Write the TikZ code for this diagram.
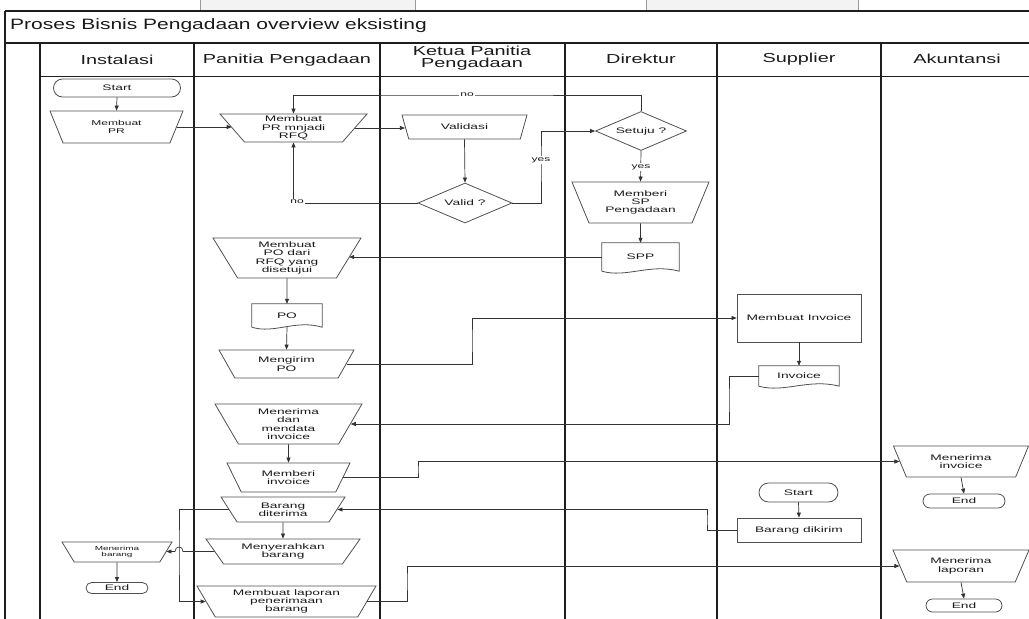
\documentclass[tikz,border=0pt]{standalone}
\usepackage{fontspec}
\setmainfont{Liberation Sans}
\newfontfamily\nodefont[FakeStretch=1.72]{Liberation Sans}
\newfontfamily\headfont[FakeStretch=1.53]{Liberation Sans}
\newfontfamily\titlefont[FakeStretch=1.4]{Liberation Sans}
\usetikzlibrary{shapes.geometric,arrows.meta,calc}
\definecolor{lanec}{HTML}{1E1E1E}
\definecolor{shapec}{HTML}{505050}
\definecolor{linec}{HTML}{333333}
\definecolor{txtc}{HTML}{1A1A1A}
\definecolor{tabfill}{HTML}{F3F3F3}
\definecolor{tabline}{HTML}{9A9A9A}
\tikzset{
  lane/.style={draw=lanec, line width=1.6pt},
  hline/.style={draw=lanec, line width=1.1pt},
  shp/.style={draw=shapec, line width=0.8pt},
  txt/.style={font=\nodefont\fontsize{8}{8.4}\selectfont, align=center, inner sep=0pt, text=txtc},
  manop/.style n args={3}{shp, txt, trapezium, shape border rotate=180, trapezium stretches body,
      minimum width=#1, minimum height=#2, trapezium angle=#3},
  term/.style 2 args={shp, txt, rectangle, rounded corners=#2/2, minimum width=#1, minimum height=#2},
  procbox/.style 2 args={shp, txt, rectangle, minimum width=#1, minimum height=#2},
  docbox/.style 2 args={txt, rectangle, minimum width=#1, minimum height=#2},
  decision/.style 2 args={shp, txt, diamond, aspect=2.3, minimum width=#1, minimum height=#2},
  arr/.style={draw=linec, line width=0.7pt, -{Triangle[length=5pt,width=4pt]}},
  lbl/.style={font=\nodefont\fontsize{7}{7}\selectfont, fill=white, inner sep=1pt, text=txtc},
  head/.style={font=\headfont\fontsize{13}{12}\selectfont, align=center, text=txtc},
}
\newcommand\docwave[1]{%
  \draw[shp] (#1.south west) -- (#1.north west) -- (#1.north east) -- (#1.south east)
    .. controls ($(#1.south west)!0.62!(#1.south east)+(0,-8)$) and ($(#1.south west)!0.32!(#1.south east)+(0,7)$) .. (#1.south west);}
\begin{document}
\begin{tikzpicture}[x=1pt,y=-1pt]
\useasboundingbox (0,0) rectangle (1029,619);
% top tabs
\draw[draw=tabline, fill=tabfill, line width=0.6pt] (200,-2) rectangle (415,11);
\draw[draw=tabline, fill=tabfill, line width=0.6pt] (646,-2) rectangle (858,11);
% frame
\draw[hline] (5,11) -- (1031,11);
\draw[hline] (5,43) -- (1031,43);
\draw[draw=lanec, line width=0.9pt] (40,76) -- (1031,76);
\draw[lane] (5,11) -- (5,621);
\foreach \xx in {40,194,380,565,717,881} { \draw[lane] (\xx,43) -- (\xx,621); }
% title and headers
\node[anchor=west, font=\titlefont\fontsize{15}{15}\selectfont, text=txtc, inner sep=0pt] (title) at (10,26) {Proses Bisnis Pengadaan overview eksisting};
\node[head] (hInst) at (117,60) {Instalasi};
\node[head] (hPan) at (287,60) {Panitia Pengadaan};
\node[head] (hKet) at (472,58) {Ketua Panitia\\Pengadaan};
\node[head] (hDir) at (641,59) {Direktur};
\node[head] (hSup) at (799,59) {Supplier};
\node[head] (hAku) at (957,59) {Akuntansi};
% nodes
\node[term={127pt}{18pt}] (startA) at (117,88) {Start};
\node[manop={133pt}{32pt}{45.9}, font=\nodefont\fontsize{7}{8.4}\selectfont] (membuatpr) at (116.5,127) {Membuat\\PR};
\node[manop={147pt}{28pt}{44.5}] (rfq) at (293.5,128) {Membuat\\PR mnjadi\\RFQ};
\node[manop={125pt}{24pt}{41}] (validasi) at (464.5,127) {Validasi};
\node[decision={94pt}{40pt}] (valid) at (465,203) {Valid ?};
\node[decision={91pt}{39pt}] (setuju) at (641,131) {Setuju ?};
\node[manop={137pt}{41pt}{55}] (memberisp) at (640.5,202.5) {Memberi\\SP\\Pengadaan};
\node[docbox={77pt}{28pt}] (spp) at (640.5,257) {SPP};
\docwave{spp}
\node[manop={148pt}{40pt}{53}] (membuatpo) at (287,258) {Membuat\\PO dari\\RFQ yang\\disetujui};
\node[docbox={70pt}{23pt}] (po) at (287,315.5) {PO};
\docwave{po}
\node[manop={135pt}{28pt}{42}] (mengirim) at (286.5,364) {Mengirim\\PO};
\node[procbox={124pt}{48pt}] (membuatinv) at (799,318) {Membuat Invoice};
\node[docbox={80pt}{20pt}] (invoice) at (799,376) {Invoice};
\docwave{invoice}
\node[manop={147pt}{40pt}{53}] (menerimadan) at (288.5,424) {Menerima\\dan\\mendata\\invoice};
\node[manop={123pt}{29pt}{45}] (memberiinv) at (288.5,477.5) {Memberi\\invoice};
\node[manop={135pt}{31pt}{48}] (menerimainv) at (961,461.5) {Menerima\\invoice};
\node[term={82pt}{14pt}] (endB) at (964,501) {End};
\node[term={79pt}{19pt}] (startS) at (798.5,492.5) {Start};
\node[procbox={124pt}{24pt}] (barangdikirim) at (799,530) {Barang dikirim};
\node[manop={124pt}{25pt}{41}] (barangditerima) at (283,509.5) {Barang\\diterima};
\node[manop={154pt}{25pt}{42}] (menyerahkan) at (283,551.5) {Menyerahkan\\barang};
\node[manop={110pt}{20pt}{45}, font=\nodefont\fontsize{5.8}{6.8}\selectfont] (menerimabarang) at (117,552) {Menerima\\barang};
\node[term={62pt}{11pt}] (endA) at (117,588) {End};
\node[manop={179pt}{31pt}{53}] (laporan) at (286.5,601.5) {Membuat laporan\\penerimaan\\barang};
\node[manop={136pt}{32pt}{49}] (menerimalap) at (961,566) {Menerima\\laporan};
\node[term={76pt}{13pt}] (endC) at (964,605.5) {End};
% bend points
\coordinate (noT) at (467,95);
\coordinate (yesA) at (541,160);
\coordinate (c1) at (472,340);
\coordinate (c2) at (729,400);
\coordinate (c3) at (418,470);
\coordinate (c4) at (707,520);
\coordinate (c5) at (179,550);
\coordinate (c6) at (407,580);
% connectors
\draw[arr] (startA.south) -- (membuatpr.north);
\draw[arr] (membuatpr.east) -- (membuatpr.east -| rfq.west);
\draw[arr] (rfq.east) -- (rfq.east -| validasi.west);
\draw[arr] (validasi.south) -- (valid.north);
\draw[arr] (valid.west) -| (rfq.south);
\node[lbl] (noB) at (297,202) {no};
\draw[arr] (valid.east) -| (yesA) |- (setuju.west);
\node[lbl] (yesLA) at (yesA) {yes};
\draw[arr] (setuju.north) |- (noT) -| (rfq.north);
\node[lbl] (noLT) at (noT) {no};
\draw[arr] (setuju.south) -- (memberisp.north);
\node[lbl] (yesLB) at (641,167) {yes};
\draw[arr] (memberisp.south) -- (spp.north);
\draw[arr] (spp.west) -- (spp.west -| membuatpo.east);
\draw[arr] (membuatpo.south) -- (po.north);
\draw[arr] (po.south) -- (mengirim.north);
\draw[arr] (mengirim.east) -| (c1) |- (membuatinv.west);
\draw[arr] (membuatinv.south) -- (invoice.north);
\draw[arr] (invoice.west) -| (c2) |- (menerimadan.east);
\draw[arr] (menerimadan.south) -- (memberiinv.north);
\draw[arr] (memberiinv.east) -| (c3) |- (menerimainv.west);
\draw[arr] (menerimainv.south) -- (endB.north);
\draw[arr] (startS.south) -- (barangdikirim.north);
\draw[arr] (barangdikirim.west) -| (c4) |- (barangditerima.east);
\draw[arr] (barangditerima.south) -- (menyerahkan.north);
\draw[arr] (barangditerima.west) -| (c5) |- (laporan.west);
\coordinate (hopM) at (c5 |- menyerahkan.west);
\draw[arr] (menyerahkan.west) -- ($(hopM)+(4,0)$) .. controls ($(hopM)+(4,-6)$) and ($(hopM)+(-4,-6)$) .. ($(hopM)+(-4,0)$) -- (menyerahkan.west -| menerimabarang.east);
\draw[arr] (menerimabarang.south) -- (endA.north);
\draw[arr] (laporan.east) -| (c6) |- (menerimalap.west);
\draw[arr] (menerimalap.south) -- (endC.north);
\end{tikzpicture}
\end{document}
